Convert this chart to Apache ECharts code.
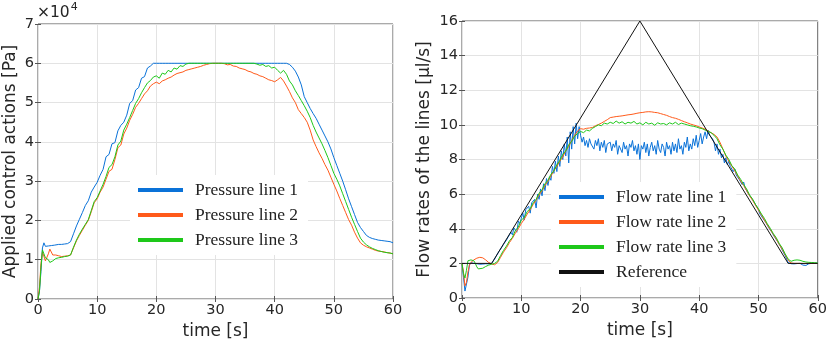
<!DOCTYPE html>
<html>
<head>
<meta charset="utf-8">
<script src="https://cdn.jsdelivr.net/npm/echarts@6/dist/echarts.min.js"></script>
<style>
  html, body { margin: 0; padding: 0; background: #fff; }
  #chart { width: 830px; height: 346px; }
</style>
</head>
<body>
<div id="chart"></div>
<script>
// sample times (s): finer at the start, then every 0.5 s
const tEarly = [0, 0.25, 0.5, 0.75, 1, 1.25, 1.5, 1.75, 2, 2.25, 2.5, 2.75]
const tHalf = tEarly.concat(Array.from({ length: 115 }, (_, i) => 3 + i * 0.5))
const tQuarter = Array.from({ length: 241 }, (_, i) => i * 0.25)

// left plot: applied pressures (x 1e4 Pa)
const pressure1 = [
  0, 0.2, 0.7, 1.3, 1.43, 1.34, 1.37, 1.35, 1.37, 1.36, 1.38, 1.37,
  1.38, 1.39, 1.39, 1.40, 1.41, 1.46, 1.66, 1.86, 2.03, 2.2,
  2.38, 2.5, 2.72, 2.85, 2.97, 3.15, 3.3, 3.62, 3.68, 3.95,
  3.98, 4.28, 4.42, 4.5, 4.68, 4.98, 5.05, 5.32, 5.38, 5.62,
  5.66, 5.88, 5.93, 6, 6, 6, 6, 6, 6, 6,
  6, 6, 6, 6, 6, 6, 6, 6, 6, 6,
  6, 6, 6, 6, 6, 6, 6, 6, 6, 6,
  6, 6, 6, 6, 6, 6, 6, 6, 6, 6,
  6, 6, 6, 6, 6, 6, 6, 6, 6, 5.97,
  5.9, 5.8, 5.65, 5.45, 5.15, 5.0, 4.85, 4.72, 4.6, 4.45,
  4.3, 4.15, 4.0, 3.82, 3.6, 3.4, 3.2, 3.0, 2.78, 2.55,
  2.35, 2.15, 1.95, 1.82, 1.72, 1.62, 1.57, 1.54, 1.52, 1.5,
  1.49, 1.48, 1.47, 1.46, 1.43
]
const pressure2 = [
  0, 0.3, 0.9, 1.2, 1.15, 0.97, 1.0, 1.15, 1.27, 1.22, 1.12, 1.1,
  1.12, 1.1, 1.08, 1.09, 1.1, 1.12, 1.3, 1.48, 1.62, 1.75,
  1.88, 2.0, 2.22, 2.45, 2.55, 2.72, 2.85, 3.05, 3.25, 3.3,
  3.55, 3.85, 3.92, 4.2, 4.35, 4.55, 4.7, 4.88, 4.98, 5.1,
  5.22, 5.3, 5.42, 5.48, 5.52, 5.48, 5.55, 5.58, 5.62, 5.65,
  5.7, 5.74, 5.76, 5.78, 5.82, 5.84, 5.86, 5.88, 5.9, 5.92,
  5.95, 5.97, 5.99, 6.0, 6.0, 6.0, 6.0, 5.99, 5.96, 5.97,
  5.93, 5.92, 5.88, 5.86, 5.84, 5.8, 5.78, 5.74, 5.72, 5.68,
  5.66, 5.62, 5.58, 5.56, 5.53, 5.58, 5.64, 5.55, 5.42, 5.28,
  5.12, 5.0, 4.82, 4.72, 4.62, 4.5, 4.3, 4.05, 3.88, 3.72,
  3.58, 3.42, 3.28, 3.1, 2.92, 2.75, 2.56, 2.38, 2.2, 2.02,
  1.88, 1.7, 1.55, 1.43, 1.37, 1.33, 1.3, 1.27, 1.24, 1.22,
  1.21, 1.2, 1.18, 1.17, 1.15
]
const pressure3 = [
  0, 0.2, 0.8, 1.25, 1.15, 1.05, 1.1, 1.0, 0.93, 0.92, 0.97, 1.0,
  1.03, 1.05, 1.06, 1.08, 1.09, 1.12, 1.32, 1.5, 1.65, 1.78,
  1.9, 2.02, 2.25, 2.48, 2.58, 2.75, 2.92, 3.12, 3.35, 3.42,
  3.62, 3.92, 4.02, 4.3, 4.45, 4.62, 4.8, 4.98, 5.1, 5.25,
  5.38, 5.5, 5.56, 5.65, 5.68, 5.62, 5.75, 5.72, 5.82, 5.78,
  5.88, 5.85, 5.94, 5.92, 5.98, 6, 6, 6, 6, 6,
  6, 6, 6, 6, 6, 6, 6, 6, 6, 6,
  6, 6, 6, 6, 6, 6, 6, 6, 5.98, 5.95,
  5.97, 5.92, 5.94, 5.88, 5.9, 5.82, 5.75, 5.82, 5.72, 5.55,
  5.45, 5.3, 5.18, 5.05, 4.92, 4.78, 4.62, 4.42, 4.25, 4.1,
  3.95, 3.78, 3.6, 3.4, 3.2, 3.05, 2.88, 2.68, 2.48, 2.28,
  2.08, 1.9, 1.72, 1.55, 1.45, 1.38, 1.33, 1.29, 1.26, 1.23,
  1.21, 1.19, 1.18, 1.17, 1.15
]

// right plot: flow rates (ul/s)
const flow1 = [
  2.0, 1.2, 0.4, 0.35, 1.2, 1.9, 2.05, 1.95, 2.0, 1.92, 1.98, 1.9, 1.95, 1.88, 1.96, 1.92, 1.98, 1.93, 1.97, 2.0,
  2.0, 2.1, 2.25, 2.4, 2.55, 2.7, 2.75, 2.95, 3.1, 3.2, 3.35, 3.5, 3.55, 3.8, 3.65, 4.05, 4.1, 3.8, 4.45, 4.3,
  4.6, 4.9, 4.5, 5.1, 5.0, 5.3, 4.9, 5.5, 5.4, 5.7, 5.2, 6.0, 5.7, 6.3, 5.9, 6.6, 6.2, 6.9, 6.5, 7.0,
  6.8, 7.6, 7.2, 7.9, 7.3, 8.2, 7.6, 8.5, 8.0, 8.9, 8.2, 9.3, 7.8, 9.6, 8.6, 9.9, 8.9, 10.1, 9.2, 9.9,
  9.4, 9.0, 9.3, 8.8, 9.1, 8.7, 9.2, 8.9, 9.0, 8.6, 9.1, 8.8, 9.2, 8.5, 9.0, 8.7, 9.1, 8.4, 8.9, 8.8,
  9.0, 8.5, 8.9, 8.7, 9.1, 8.3, 8.8, 8.9, 8.4, 9.0, 8.6, 8.8, 8.2, 8.9, 8.7, 9.1, 8.5, 8.8, 8.3, 8.9,
  8.0, 8.8, 8.6, 9.0, 8.4, 8.9, 8.2, 8.7, 9.0, 8.5, 8.8, 8.3, 9.1, 8.6, 8.4, 8.9, 8.7, 8.2, 9.0, 8.6,
  8.8, 8.3, 9.0, 8.5, 8.9, 8.4, 9.2, 8.6, 8.8, 8.3, 9.0, 8.7, 9.3, 8.5, 8.9, 8.6, 9.2, 8.8, 9.4, 8.7,
  9.1, 9.5, 8.9, 9.3, 9.6, 9.2, 9.7, 9.4, 9.5, 9.2, 9.0, 8.5, 8.9, 8.3, 8.6, 8.1, 8.3, 7.8, 8.1, 7.7,
  7.9, 7.6, 7.7, 7.3, 7.45, 7.1, 7.15, 6.85, 6.95, 6.55, 6.7, 6.35, 6.4, 6.05, 6.15, 5.8, 5.85, 5.55, 5.6, 5.25,
  5.1, 4.85, 4.95, 4.6, 4.65, 4.35, 4.4, 4.05, 4.1, 3.8, 3.85, 3.5, 3.55, 3.25, 3.2, 2.95, 2.85, 2.6, 2.45, 2.25,
  2.05, 2.0, 1.98, 2.0, 1.97, 2.0, 1.99, 1.98, 2.0, 1.96, 1.9, 1.97, 1.88, 1.95, 1.98, 1.95, 2.0, 1.97, 2.0, 2.0,
  2.02
]
const flow2 = [
  2.0, 1.5, 0.7, 0.9, 1.5, 1.9, 2.05, 2.15, 2.2, 2.25, 2.3, 2.33,
  2.35, 2.32, 2.2, 2.05, 1.97, 1.92, 2.05, 2.35, 2.65, 2.9,
  3.2, 3.45, 3.75, 4.0, 4.3, 4.55, 4.85, 5.1, 5.4, 5.65,
  5.95, 6.2, 6.5, 6.75, 7.05, 7.35, 7.6, 7.9, 8.15, 8.5,
  8.75, 9.1, 9.4, 9.65, 9.78, 9.75, 9.8, 9.82, 9.85, 9.95,
  10.02, 10.1, 10.2, 10.3, 10.42, 10.45, 10.48, 10.5, 10.52, 10.55,
  10.58, 10.6, 10.63, 10.67, 10.7, 10.72, 10.75, 10.76, 10.75, 10.72,
  10.7, 10.65, 10.6, 10.55, 10.48, 10.42, 10.38, 10.32, 10.25, 10.18,
  10.12, 10.05, 10.0, 9.95, 9.88, 9.82, 9.75, 9.65, 9.55, 9.45,
  9.3, 9.0, 8.6, 8.2, 7.9, 7.62, 7.35, 7.05, 6.75, 6.5,
  6.2, 5.9, 5.65, 5.35, 5.08, 4.8, 4.5, 4.22, 3.95, 3.68,
  3.4, 3.1, 2.82, 2.5, 2.2, 2.02, 2.0, 2.0, 2.0, 1.99,
  1.99, 2.0, 2.0, 2.0, 2.0
]
const flow3 = [
  2.0, 1.4, 1.15, 1.6, 2.15, 2.22, 2.2, 2.2, 2.15, 2.0, 1.8, 1.68,
  1.65, 1.72, 1.82, 1.9, 1.95, 2.0, 2.12, 2.45, 2.75, 3.0,
  3.3, 3.5, 3.9, 4.1, 4.5, 4.65, 5.0, 5.15, 5.5, 5.7,
  6.05, 6.25, 6.6, 6.8, 7.15, 7.35, 7.7, 7.95, 8.3, 8.5,
  8.85, 9.05, 9.35, 9.5, 9.62, 9.55, 9.7, 9.65, 9.8, 9.9,
  10.0, 9.95, 10.1, 10.05, 10.15, 10.08, 10.22, 10.1, 10.18, 10.05,
  10.15, 10.1, 10.2, 10.05, 10.12, 10.0, 10.15, 10.05, 10.1, 9.98,
  10.12, 10.05, 10.08, 10.0, 10.12, 10.05, 10.15, 10.02, 10.1, 10.05,
  10.0, 9.95, 9.92, 9.88, 9.82, 9.78, 9.7, 9.62, 9.55, 9.4,
  9.2, 8.85, 8.6, 8.25, 8.0, 7.65, 7.45, 7.1, 6.85, 6.55,
  6.3, 5.95, 5.72, 5.4, 5.15, 4.85, 4.6, 4.28, 4.02, 3.72,
  3.48, 3.15, 2.9, 2.55, 2.25, 2.12, 2.18, 2.2, 2.18, 2.12,
  2.08, 2.06, 2.05, 2.04, 2.02
]
const refTime = [0, 5, 30, 55, 60]
const refFlow = [2, 2, 16, 2, 2]

const pressureNames = ['Pressure line 1', 'Pressure line 2', 'Pressure line 3']
const flowNames = ['Flow rate line 1', 'Flow rate line 2', 'Flow rate line 3', 'Reference']
const colors = ['#0a72d8', '#ff5a1a', '#1ec81a', '#111111']

const chart = echarts.init(document.getElementById('chart'))

const sans = 'DejaVu Sans'
const labelStyle = { fontFamily: sans, fontSize: 14.5, color: '#262626' }
const nameStyle = { fontFamily: sans, fontSize: 17, color: '#262626' }
const gridLine = { show: true, lineStyle: { color: '#e3e3e3', width: 1 } }

function mainX(gridIndex) {
  return {
    type: 'value', gridIndex, min: 0, max: 60, interval: 10,
    name: 'time [s]', nameLocation: 'middle', nameGap: 21, nameTextStyle: nameStyle,
    axisLine: { show: false },
    axisTick: { show: true, inside: true, length: 3, lineStyle: { color: '#555' } },
    axisLabel: Object.assign({ margin: 4 }, labelStyle),
    splitLine: gridLine
  }
}
function topX(gridIndex) {
  return {
    type: 'value', gridIndex, position: 'top', min: 0, max: 60, interval: 10,
    axisLine: { show: false }, axisLabel: { show: false }, splitLine: { show: false },
    axisTick: { show: true, inside: true, length: 3, lineStyle: { color: '#555' } }
  }
}
function mainY(gridIndex, max, interval, name, gap) {
  return {
    type: 'value', gridIndex, min: 0, max, interval,
    name, nameLocation: 'middle', nameGap: gap, nameTextStyle: nameStyle,
    axisLine: { show: false },
    axisTick: { show: true, inside: true, length: 3, lineStyle: { color: '#555' } },
    axisLabel: Object.assign({ margin: 4 }, labelStyle),
    splitLine: gridLine
  }
}
function rightY(gridIndex, max, interval) {
  return {
    type: 'value', gridIndex, position: 'right', min: 0, max, interval,
    axisLine: { show: false }, axisLabel: { show: false }, splitLine: { show: false },
    axisTick: { show: true, inside: true, length: 3, lineStyle: { color: '#555' } }
  }
}

function lineSeries(name, times, values, color, xi, yi, z) {
  return {
    name, type: 'line', xAxisIndex: xi, yAxisIndex: yi,
    data: times.map((t, i) => [t, values[i]]),
    showSymbol: false, symbol: 'none', animation: false, z,
    lineStyle: { color, width: 1 }, itemStyle: { color }
  }
}

const legendText = { fontFamily: 'Liberation Serif', fontSize: 17.5, color: '#222', lineHeight: 17, padding: [0, 0, 0, 7] }

chart.setOption({
  animation: false,
  grid: [
    { left: 38, right: 437, top: 24, bottom: 47, show: true, borderColor: '#555', borderWidth: 1, backgroundColor: 'transparent' },
    { left: 462, right: 12, top: 21, bottom: 48, show: true, borderColor: '#555', borderWidth: 1, backgroundColor: 'transparent' }
  ],
  xAxis: [mainX(0), topX(0), mainX(1), topX(1)],
  yAxis: [
    mainY(0, 7, 1, 'Applied control actions [Pa]', 19),
    rightY(0, 7, 1),
    mainY(1, 16, 2, 'Flow rates of the lines [μl/s]', 29),
    rightY(1, 16, 2)
  ],
  legend: [
    {
      data: pressureNames, orient: 'vertical', left: 130, top: 175,
      icon: 'rect', itemWidth: 45, itemHeight: 4, itemGap: 7,
      backgroundColor: '#fff', padding: [6, 10, 6, 8],
      textStyle: legendText, selectedMode: false
    },
    {
      data: flowNames, orient: 'vertical', left: 551, top: 182,
      icon: 'rect', itemWidth: 45, itemHeight: 4, itemGap: 7,
      backgroundColor: '#fff', padding: [6, 10, 6, 8],
      textStyle: legendText, selectedMode: false
    }
  ],
  graphic: [
    {
      type: 'text', left: 37, top: 2,
      style: {
        text: '×10{s|4}',
        font: '15.5px "DejaVu Sans"', fill: '#262626',
        rich: { s: { fontSize: 11, fontFamily: sans, fill: '#262626', padding: [0, 0, 10, 1] } }
      }
    }
  ],
  series: [
    lineSeries(pressureNames[0], tHalf, pressure1, colors[0], 0, 0, 3),
    lineSeries(pressureNames[1], tHalf, pressure2, colors[1], 0, 0, 4),
    lineSeries(pressureNames[2], tHalf, pressure3, colors[2], 0, 0, 5),
    lineSeries(flowNames[0], tQuarter, flow1, colors[0], 2, 2, 3),
    lineSeries(flowNames[1], tHalf, flow2, colors[1], 2, 2, 4),
    lineSeries(flowNames[2], tHalf, flow3, colors[2], 2, 2, 5),
    lineSeries(flowNames[3], refTime, refFlow, colors[3], 2, 2, 6)
  ]
})
</script>
</body>
</html>
